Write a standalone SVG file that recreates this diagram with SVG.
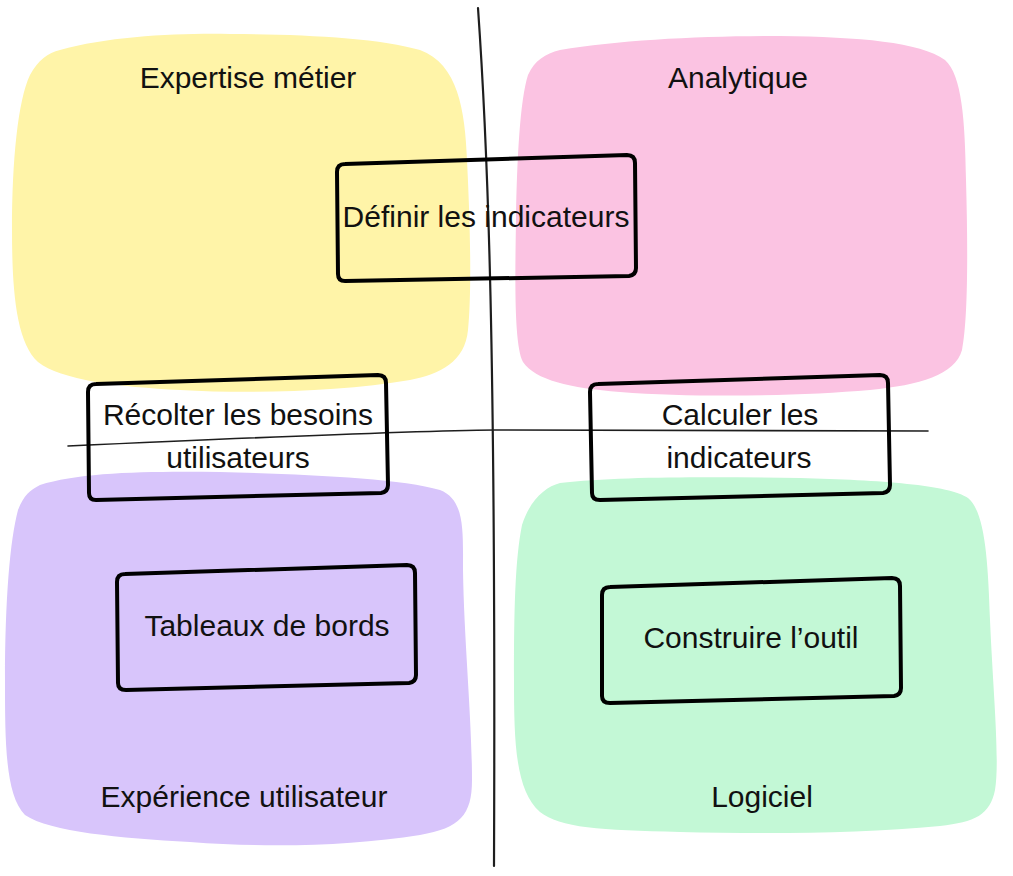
<svg xmlns="http://www.w3.org/2000/svg" width="1013" height="876" viewBox="0 0 1013 876">
  <style>
    .lbl { font-family: "Liberation Sans", Arial, sans-serif; font-size: 30px; fill: #111111; text-anchor: middle; }
    .box { fill: none; stroke: #000000; stroke-width: 4; stroke-linejoin: round; stroke-linecap: round; }
    .axis { fill: none; stroke: #1e1e1e; stroke-linecap: round; }
  </style>
  <rect x="0" y="0" width="1013" height="876" fill="#ffffff"/>

  <g id="zone-expertise">
    <path fill="#fff4a8" d="M 60,50 C 110,36 180,33 230,34 C 300,34 380,38 420,50 C 458,64 465,110 467,160 C 470,220 472,290 468,330 C 465,362 440,374 410,380 C 340,392 250,394 180,390 C 120,387 60,380 38,362 C 16,342 12,290 12,230 C 12,160 18,100 30,75 C 38,60 48,53 60,50 Z"/>
    <text class="lbl" x="248" y="88">Expertise métier</text>
  </g>

  <g id="zone-analytique">
    <path fill="#fbc3e2" d="M 560,50 C 620,40 700,36 780,36 C 860,37 920,42 945,60 C 962,75 965,120 966,180 C 968,250 968,320 962,350 C 955,375 920,385 870,390 C 800,396 700,398 620,392 C 570,388 535,380 523,362 C 514,345 515,280 516,220 C 517,160 520,100 528,75 C 535,60 545,54 560,50 Z"/>
    <text class="lbl" x="738" y="88">Analytique</text>
  </g>

  <g id="zone-experience">
    <path fill="#d8c5fb" d="M 40,485 C 80,472 150,471 220,472 C 300,474 400,478 440,490 C 465,500 463,530 463,570 C 464,640 472,720 472,780 C 472,815 460,828 420,835 C 350,846 270,848 190,842 C 120,838 50,832 25,815 C 5,795 5,740 5,680 C 5,600 10,540 18,510 C 24,495 30,490 40,485 Z"/>
    <text class="lbl" x="244" y="807">Expérience utilisateur</text>
  </g>

  <g id="zone-logiciel">
    <path fill="#c3f8d6" d="M 560,483 C 620,476 720,477 800,478 C 880,480 950,485 968,498 C 985,512 988,560 990,620 C 993,690 1000,760 995,790 C 990,815 975,822 940,826 C 860,834 760,834 680,832 C 600,830 560,828 540,812 C 515,790 514,740 514,680 C 514,610 515,560 522,525 C 530,500 545,487 560,483 Z"/>
    <text class="lbl" x="762" y="807">Logiciel</text>
  </g>

  <g id="connectors">
    <path class="axis" stroke-width="2.2" d="M 478,8 C 488,150 496,350 494,866"/>
    <path class="axis" stroke-width="1.6" d="M 68,446 C 200,440 400,431 495,430 L 928,431"/>
  </g>

  <g id="node-definir">
    <path class="box" d="M 345,164 L 627,155 Q 635,155 635,163 L 636,268 Q 636,275 629,276 L 345,281 Q 338,281 338,274 L 337,172 Q 337,164 345,164 Z"/>
    <text class="lbl" x="486" y="227">Définir les indicateurs</text>
  </g>

  <g id="node-recolter">
    <path class="box" d="M 96,384 L 378,375 Q 386,375 386,383 L 388,485 Q 388,492 381,493 L 96,500 Q 89,500 89,493 L 88,392 Q 88,384 96,384 Z"/>
    <text class="lbl" x="238" y="425">Récolter les besoins</text>
    <text class="lbl" x="238" y="468">utilisateurs</text>
  </g>

  <g id="node-calculer">
    <path class="box" d="M 598,384 L 880,375 Q 888,375 888,383 L 890,485 Q 890,492 883,493 L 600,500 Q 592,500 592,493 L 590,392 Q 590,384 598,384 Z"/>
    <text class="lbl" x="740" y="425">Calculer les</text>
    <text class="lbl" x="739" y="468">indicateurs</text>
  </g>

  <g id="node-tableaux">
    <path class="box" d="M 125,574 L 407,565 Q 415,565 415,573 L 416,675 Q 416,682 409,683 L 126,690 Q 118,690 118,683 L 117,582 Q 117,574 125,574 Z"/>
    <text class="lbl" x="267" y="636">Tableaux de bords</text>
  </g>

  <g id="node-construire">
    <path class="box" d="M 610,587 L 892,578 Q 900,578 900,586 L 901,688 Q 901,695 894,696 L 610,703 Q 602,703 602,696 L 602,595 Q 602,587 610,587 Z"/>
    <text class="lbl" x="751" y="648">Construire l’outil</text>
  </g>
</svg>
